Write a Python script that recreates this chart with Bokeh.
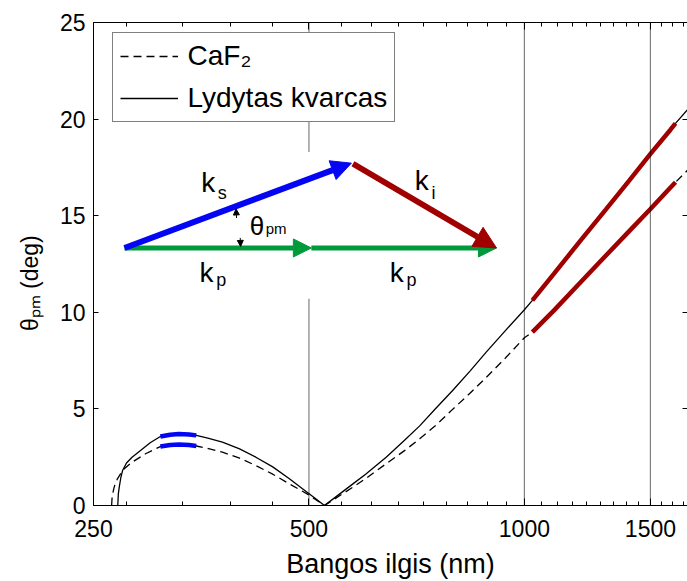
import numpy as np
from bokeh.plotting import figure
from bokeh.models import (FixedTicker, LogAxis, LinearAxis, Span, BoxAnnotation, Arrow,
                          NormalHead, Label, Legend, LegendItem, BasicTickFormatter)
from bokeh.embed import file_html
from bokeh.resources import INLINE

# ---------------- data ----------------
lam_fs = [270.3, 270.8, 271.6, 273.0, 274.5, 278, 283, 292.6, 300, 310, 320, 329, 340, 348,
          360, 378.5, 400, 421.5, 445, 469.5, 497, 510, 525.5, 540, 576, 600, 641, 680, 714,
          750, 795, 840, 885, 940, 1000, 1026, 1100, 1200, 1300, 1400, 1500, 1600, 1626, 1700]
theta_fs = [0, 0.6, 0.95, 1.45, 1.81, 2.2, 2.5, 2.93, 3.25, 3.57, 3.66, 3.7, 3.68, 3.63,
            3.5, 3.28, 2.93, 2.5, 2.0, 1.38, 0.69, 0.37, 0, 0.33, 1.12, 1.62, 2.5, 3.38, 4.12,
            4.98, 5.98, 6.97, 7.95, 9.04, 10.13, 10.62, 12.0, 13.75, 15.33, 16.8, 18.2, 19.45,
            19.78, 20.6]

lam_caf = [265, 265.5, 267, 268, 270, 272.7, 276, 283, 295.6, 310, 320, 329, 340, 348,
           360, 378.5, 400, 421.5, 445, 469.5, 497, 510, 525.5, 540, 576, 600, 641, 680, 714,
           750, 795, 840, 885, 940, 1000, 1026, 1100, 1200, 1300, 1400, 1500, 1600, 1626, 1700]
theta_caf = [0, 0.5, 0.9, 1.12, 1.38, 1.64, 1.9, 2.24, 2.68, 3.05, 3.13, 3.16, 3.13, 3.08,
             2.97, 2.76, 2.45, 2.07, 1.62, 1.12, 0.6, 0.32, 0, 0.28, 0.95, 1.39, 2.16, 2.84, 3.45,
             4.11, 5.0, 5.82, 6.64, 7.62, 8.68, 8.97, 10.1, 11.58, 12.94, 14.19, 15.35, 16.46,
             16.73, 17.45]

blue_range = [310, 348]       # highlighted signal tuning range (nm)
red_range = [1026, 1626]      # highlighted idler tuning range (nm)
marker_lines = [500, 1000, 1500]

x_major = [250, 500, 1000, 1500]
x_minor = [k * 500 / 9 for k in range(5, 31) if k not in (9, 18, 27)]
y_major = [0, 5, 10, 15, 20, 25]

series_labels = ["CaF\u2082", "Lydytas kvarcas"]
x_title = "Bangos ilgis (nm)"
y_title = "\u03b8\u209a\u2098 (deg)" + "\u00a0" * 6

# inset vector diagram (data coordinates)
diag_origin = [276.2, 13.33]
diag_ks_tip = [573.1, 17.72]
diag_ki_start = [576.1, 17.69]
diag_kp_mid = [503.9, 13.33]
diag_kp_end = [914.1, 13.33]
diag_box = [262, 940, 10.7, 18.3]   # left, right, bottom, top
diag_texts = [  # text, x, y, size
    ("k", 353.6, 16.7, "28px"), ("s", 373.0, 16.15, "18px"),
    ("k", 702.7, 16.8, "28px"), ("i", 741.5, 16.2, "18px"),
    ("k", 351.7, 12.08, "28px"), ("p", 371.1, 11.67, "18px"),
    ("k", 648.4, 12.08, "28px"), ("p", 684.2, 11.67, "18px"),
    ("\u03b8", 413.2, 14.45, "26px"), ("pm", 435.0, 14.36, "15px"),
]
arc_top = [396.1, 14.88, 395.5, 15.35]
arc_bot = [400.8, 13.85, 401.3, 13.41]

FONT = "Liberation Sans"
BLUE = "#0505f5"
RED = "#a00000"
GREEN = "#009a3c"

p = figure(width=687, height=581, x_axis_type="log", x_range=(250, 1690), y_range=(0, 25),
           output_backend="svg", toolbar_location=None,
           min_border_left=93, min_border_right=0, min_border_top=22, min_border_bottom=76)
p.grid.visible = False
p.outline_line_color = None
p.background_fill_color = "white"

xt = FixedTicker(ticks=x_major, minor_ticks=x_minor)
yt = FixedTicker(ticks=y_major, minor_ticks=[])

xa = p.xaxis[0]
xa.ticker = xt
xa.formatter = BasicTickFormatter(use_scientific=False)
xa.major_label_overrides = {v: str(v) for v in x_major}
xa.major_tick_in = 7
xa.major_tick_out = 0
xa.minor_tick_in = 4
xa.minor_tick_out = 0
xa.major_label_text_font = FONT
xa.major_label_text_font_size = "23px"
xa.major_label_text_color = "black"
xa.major_label_standoff = 14
xa.axis_label = x_title
xa.axis_label_text_font = FONT
xa.axis_label_text_font_size = "27px"
xa.axis_label_text_font_style = "normal"
xa.axis_label_text_color = "black"
xa.axis_label_standoff = 9
xa.axis_line_color = "black"

ya = p.yaxis[0]
ya.ticker = yt
ya.major_tick_in = 5
ya.major_tick_out = 0
ya.minor_tick_line_color = None
ya.major_label_text_font = FONT
ya.major_label_text_font_size = "23px"
ya.major_label_text_color = "black"
ya.major_label_standoff = 8
ya.axis_line_color = "black"
ya.axis_label = y_title
ya.axis_label_text_font = FONT
ya.axis_label_text_font_size = "23px"
ya.axis_label_text_font_style = "normal"
ya.axis_label_text_color = "black"
ya.axis_label_standoff = 14

top = LogAxis(ticker=xt, major_tick_in=7, major_tick_out=0, minor_tick_in=4, minor_tick_out=0,
              major_label_text_font_size="1px", major_label_text_color=None,
              major_label_standoff=0, axis_line_color="black")
p.add_layout(top, "above")
right = LinearAxis(ticker=yt, major_tick_in=5, major_tick_out=0, minor_tick_line_color=None,
                   major_label_text_font_size="1px", major_label_text_color=None,
                   major_label_standoff=0, axis_line_color=None)
p.add_layout(right, "right")

# curves
lf = np.array(lam_fs); tf = np.array(theta_fs)
lc = np.array(lam_caf); tc = np.array(theta_caf)
r_caf = p.line(lc, tc, line_color="black", line_width=1.3, line_dash="8 5")
r_fs = p.line(lf, tf, line_color="black", line_width=1.3)

for lam, th in ((lf, tf), (lc, tc)):
    mb = (lam >= blue_range[0]) & (lam <= blue_range[1])
    p.line(lam[mb], th[mb], line_color=BLUE, line_width=4.5)
    mr = (lam >= red_range[0]) & (lam <= red_range[1])
    p.line(lam[mr], th[mr], line_color=RED, line_width=4.5)

for v in marker_lines:
    p.add_layout(Span(location=v, dimension="height", line_color="black", line_width=1.2,
                      line_dash="1 1", level="glyph"))

legend = Legend(items=[LegendItem(label=series_labels[0], renderers=[r_caf]),
                       LegendItem(label=series_labels[1], renderers=[r_fs])],
                location=(18.5, 383), label_text_font=FONT, label_text_font_size="28px",
                label_text_color="black", glyph_width=58, glyph_height=30, label_height=30,
                label_standoff=10, padding=7, spacing=10, margin=0,
                border_line_color="black", border_line_width=1,
                background_fill_color="white", background_fill_alpha=1)
p.add_layout(legend)

# inset diagram
p.add_layout(BoxAnnotation(left=diag_box[0], right=diag_box[1], bottom=diag_box[2], top=diag_box[3],
                           fill_color="white", fill_alpha=1, line_color=None))

def arrow(x0, y0, x1, y1, color, lw, size):
    p.add_layout(Arrow(end=NormalHead(size=size, fill_color=color, line_color=color, line_width=1),
                       x_start=x0, y_start=y0, x_end=x1, y_end=y1,
                       line_color=color, line_width=lw))

arrow(diag_origin[0], diag_origin[1], diag_kp_mid[0], diag_kp_mid[1], GREEN, 5, 18)
arrow(diag_kp_mid[0], diag_kp_mid[1], diag_kp_end[0], diag_kp_end[1], GREEN, 5, 18)
arrow(diag_origin[0], diag_origin[1], diag_ks_tip[0], diag_ks_tip[1], BLUE, 6, 20)
arrow(diag_ki_start[0], diag_ki_start[1], diag_kp_end[0], diag_kp_end[1], RED, 6, 22)

p.arc(x=[diag_origin[0]], y=[diag_origin[1]], radius=116, radius_units="screen",
      start_angle=0.012, end_angle=0.335, line_color="black", line_width=1)
arrow(arc_top[0], arc_top[1], arc_top[2], arc_top[3], "black", 1, 6)
arrow(arc_bot[0], arc_bot[1], arc_bot[2], arc_bot[3], "black", 1, 6)

for t, x, y, s in diag_texts:
    p.add_layout(Label(x=x, y=y, text=t, text_font=FONT, text_font_size=s, text_color="black",
                       text_align="left", text_baseline="alphabetic"))

open("out.html", "w").write(file_html(p, INLINE))
